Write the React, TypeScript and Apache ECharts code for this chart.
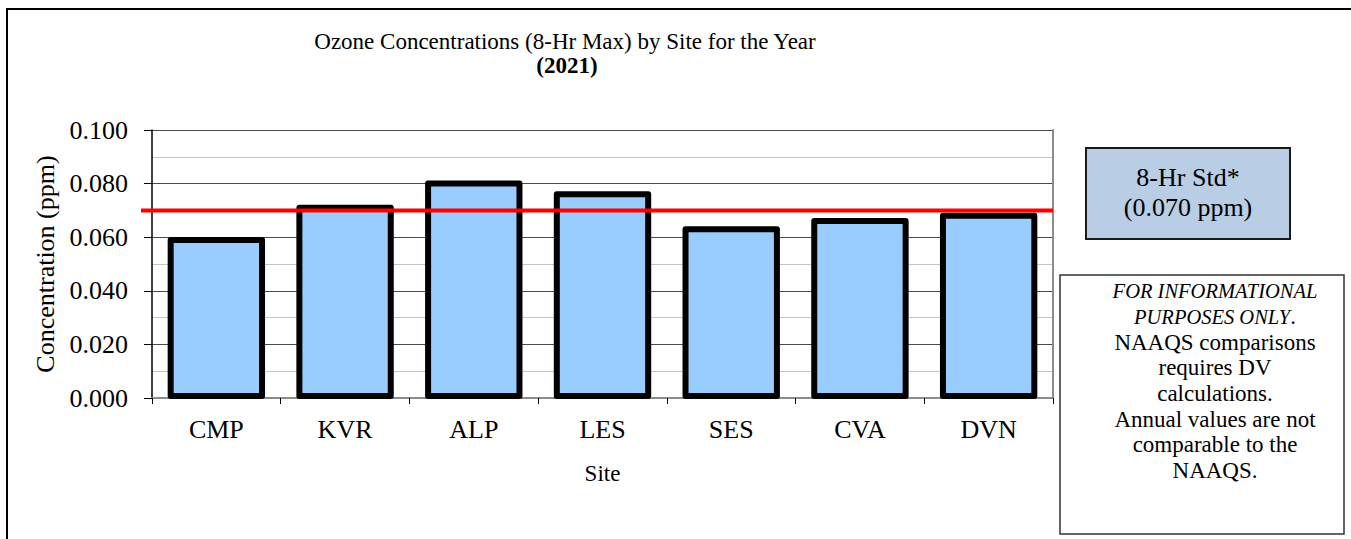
import React, { useEffect, useRef } from "react";
import * as echarts from "echarts";

const categories = ["CMP", "KVR", "ALP", "LES", "SES", "CVA", "DVN"];
const values = [0.059, 0.071, 0.08, 0.076, 0.063, 0.066, 0.068];
const stdValue = 0.07;
const yMin = 0;
const yMax = 0.1;
const yInterval = 0.02;

const titleLine1 = "Ozone Concentrations (8-Hr Max) by Site for the Year";
const titleLine2 = "(2021)";
const xName = "Site";
const yName = "Concentration (ppm)";
const stdLines = ["8-Hr Std*", "(0.070 ppm)"];
const noteLines = [
  "{i|FOR INFORMATIONAL}",
  "{i|PURPOSES ONLY}.",
  "NAAQS comparisons",
  "requires DV",
  "calculations.",
  "Annual values are not",
  "comparable to the",
  "NAAQS.",
];

const FONT = "Liberation Serif";

export default function App() {
  const ref = useRef<HTMLDivElement>(null);

  useEffect(() => {
    if (!ref.current) return;
    const chart = echarts.init(ref.current, null, { renderer: "svg" });
    const gridLeft = 152;
    const gridTop = 130;
    const gridRight = 1351 - 1053;
    const gridBottom = 539 - 398;

    chart.setOption({
      animation: false,
      backgroundColor: "#ffffff",
      textStyle: { fontFamily: FONT, color: "#000" },
      grid: {
        left: gridLeft,
        top: gridTop,
        right: gridRight,
        bottom: gridBottom,
        containLabel: false,
      },
      xAxis: [
        {
          type: "category",
          data: categories,
          position: "bottom",
          axisLine: { show: true, lineStyle: { color: "#000", width: 1.5 } },
          axisTick: {
            show: true,
            alignWithLabel: false,
            length: 6,
            lineStyle: { color: "#000", width: 1 },
          },
          axisLabel: {
            margin: 18,
            fontSize: 26,
            fontFamily: FONT,
            color: "#000",
          },
          name: xName,
          nameLocation: "middle",
          nameGap: 64,
          nameTextStyle: { fontSize: 23, fontFamily: FONT, color: "#000" },
        },
        {
          type: "category",
          data: categories,
          position: "top",
          axisLine: { show: true, lineStyle: { color: "#8c8c8c", width: 2 } },
          axisTick: { show: false },
          axisLabel: { show: false },
        },
      ],
      yAxis: [
        {
          type: "value",
          min: yMin,
          max: yMax,
          interval: yInterval,
          axisLine: { show: true, lineStyle: { color: "#000", width: 1.5 } },
          axisTick: { show: true, length: 8, lineStyle: { color: "#000" } },
          axisLabel: {
            margin: 24,
            fontSize: 26,
            fontFamily: FONT,
            color: "#000",
            formatter: (v: number) => v.toFixed(3),
          },
          splitLine: { show: true, lineStyle: { color: "#4a4a4a", width: 1 } },
          minorTick: { show: false, splitNumber: 2 },
          minorSplitLine: {
            show: true,
            lineStyle: { color: "#c4c4c4", width: 1 },
          },
          name: yName,
          nameLocation: "middle",
          nameGap: 89,
          nameRotate: 90,
          nameTextStyle: { fontSize: 26, fontFamily: FONT, color: "#000" },
        },
        {
          type: "value",
          min: yMin,
          max: yMax,
          interval: yInterval,
          position: "right",
          axisLine: { show: true, lineStyle: { color: "#8c8c8c", width: 2 } },
          axisTick: { show: false },
          axisLabel: { show: false },
          splitLine: { show: false },
        },
      ],
      series: [
        {
          type: "custom",
          xAxisIndex: 0,
          yAxisIndex: 0,
          data: values.map((v, i) => [i, v]),
          encode: { x: 0, y: 1 },
          renderItem: (params: any, api: any) => {
            const base = api.coord([api.value(0), 0]);
            const top = api.coord([api.value(0), api.value(1)]);
            const w = api.size([1, 0])[0] * 0.71;
            return {
              type: "rect",
              shape: {
                x: base[0] - w / 2,
                y: top[1],
                width: w,
                height: base[1] - top[1] - 2,
              },
              style: {
                fill: "#99ccff",
                stroke: "#000",
                lineWidth: 6,
                lineJoin: "round",
              },
            };
          },
        },
      ],
    });

    const yStd = chart.convertToPixel({ yAxisIndex: 0 }, stdValue) as number;
    const xRight = chart.convertToPixel({ xAxisIndex: 0 }, categories[categories.length - 1]) as number;
    const catWidth =
      (chart.convertToPixel({ xAxisIndex: 0 }, categories[1]) as number) -
      (chart.convertToPixel({ xAxisIndex: 0 }, categories[0]) as number);
    const plotRight = xRight + catWidth / 2;

    const txt = (size: number, extra: any = {}) => ({
      fontSize: size,
      fontFamily: FONT,
      fill: "#000",
      align: "center",
      verticalAlign: "middle",
      ...extra,
    });

    const graphic: any[] = [
      {
        type: "rect",
        shape: { x: 7, y: 9, width: 1360, height: 540 },
        style: { fill: "none", stroke: "#000", lineWidth: 2 },
        z: 0,
        silent: true,
      },
      {
        type: "line",
        shape: { x1: 141, y1: yStd, x2: plotRight, y2: yStd },
        style: { stroke: "#ff0000", lineWidth: 4 },
        z: 100,
      },
      {
        type: "text",
        x: 565,
        y: 41,
        style: { text: titleLine1, ...txt(23, { lineHeight: 20 }) },
      },
      {
        type: "text",
        x: 567,
        y: 65,
        style: { text: titleLine2, ...txt(23, { fontWeight: "bold", lineHeight: 20 }) },
      },
      {
        type: "rect",
        shape: { x: 1086, y: 148, width: 204, height: 91 },
        style: { fill: "#b9cde5", stroke: "#1a1a1a", lineWidth: 2 },
      },
      ...stdLines.map((t, i) => ({
        type: "text",
        x: 1188,
        y: 177 + i * 30,
        style: { text: t, ...txt(26) },
      })),
      {
        type: "rect",
        shape: { x: 1060, y: 275, width: 284, height: 259 },
        style: { fill: "#fff", stroke: "#333", lineWidth: 1.5 },
      },
      ...noteLines.map((t, i) => ({
        type: "text",
        x: 1215,
        y: 291 + i * 25.6,
        style: {
          text: t,
          ...txt(23),
          rich: {
            i: { fontStyle: "italic", fontSize: 20.5, fontFamily: FONT, fill: "#000" },
          },
        },
      })),
    ];

    chart.setOption({ graphic });

    return () => {
      chart.dispose();
    };
  }, []);

  return (
    <div
      ref={ref}
      style={{
        position: "fixed",
        left: 0,
        top: 0,
        width: 1351,
        height: 539,
        background: "#fff",
      }}
    />
  );
}
